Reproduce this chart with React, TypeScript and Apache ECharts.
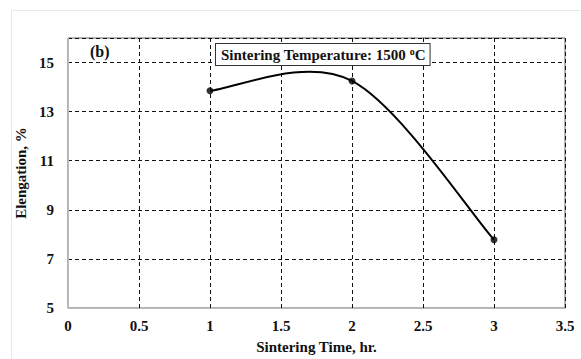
import React, { useEffect, useRef } from "react";
import * as echarts from "echarts";

const times = [1, 2, 3];
const elongation = [13.85, 14.25, 7.78];
const xTicks = { min: 0, max: 3.5, interval: 0.5 };
const yTicks = { min: 5, max: 16, interval: 2 };
const xName = "Sintering Time, hr.";
const yName = "Elengation, %";
const panelLabel = "(b)";
const annotationMain = "Sintering Temperature: 1500 ";

const FONT = "'Liberation Serif', 'Times New Roman', serif";

export default function App() {
  const ref = useRef<HTMLDivElement>(null);
  useEffect(() => {
    document.body.style.margin = "0";
    const chart = echarts.init(ref.current!, null, { renderer: "svg" });
    const pts = times.map((t, i) => [t, elongation[i]]);
    chart.setOption({
      animation: false,
      backgroundColor: "#ffffff",
      textStyle: { fontFamily: FONT },
      grid: {
        left: 68,
        top: 38,
        right: 16,
        bottom: 50,
        show: true,
        borderColor: "#666",
        borderWidth: 1,
        backgroundColor: "transparent",
      },
      xAxis: {
        type: "value",
        min: xTicks.min,
        max: xTicks.max,
        interval: xTicks.interval,
        name: xName,
        nameLocation: "middle",
        nameGap: 31,
        nameTextStyle: { fontFamily: FONT, fontWeight: "bold", fontSize: 15, color: "#111" },
        axisLine: { show: true, lineStyle: { color: "#bbb", width: 1 } },
        axisTick: { show: false },
        axisLabel: { fontFamily: FONT, fontWeight: "bold", fontSize: 15, color: "#111", margin: 10 },
        splitLine: { show: true, lineStyle: { color: "#111", type: [4, 3], width: 1 } },
      },
      yAxis: {
        type: "value",
        min: yTicks.min,
        max: yTicks.max,
        interval: yTicks.interval,
        name: yName,
        nameLocation: "middle",
        nameGap: 31,
        nameRotate: 90,
        nameTextStyle: { fontFamily: FONT, fontWeight: "bold", fontSize: 15, color: "#111" },
        axisLine: { show: true, lineStyle: { color: "#bbb", width: 1 } },
        axisTick: { show: false },
        axisLabel: {
          fontFamily: FONT,
          fontWeight: "bold",
          fontSize: 15,
          color: "#111",
          margin: 14,
          showMaxLabel: false,
          formatter: (v: number) => (v === yTicks.max ? "" : String(v)),
        },
        splitLine: { show: true, lineStyle: { color: "#111", type: [4, 3], width: 1 } },
      },
      series: [
        {
          type: "custom",
          data: pts.slice(0, pts.length - 1).map((p, i) => [p[0], p[1], i]),
          encode: { x: 0, y: 1 },
          z: 4,
          renderItem: (params: any, api: any) => {
            const i = params.dataIndex;
            const c = pts.map((p) => api.coord(p));
            const p0 = c[Math.max(i - 1, 0)];
            const p1 = c[i];
            const p2 = c[i + 1];
            const p3 = c[Math.min(i + 2, c.length - 1)];
            const k = 1 / 6;
            return {
              type: "bezierCurve",
              shape: {
                x1: p1[0],
                y1: p1[1],
                cpx1: p1[0] + (p2[0] - p0[0]) * k,
                cpy1: p1[1] + (p2[1] - p0[1]) * k,
                cpx2: p2[0] - (p3[0] - p1[0]) * k,
                cpy2: p2[1] - (p3[1] - p1[1]) * k,
                x2: p2[0],
                y2: p2[1],
              },
              style: { stroke: "#000", lineWidth: 2, fill: "none" },
            };
          },
        },
        {
          type: "scatter",
          data: pts,
          symbol: "circle",
          symbolSize: 7,
          itemStyle: { color: "#000" },
          z: 5,
        },
      ],
      graphic: [
        {
          type: "rect",
          silent: true,
          shape: { x: 11.5, y: 10.5, width: 600, height: 400 },
          style: { fill: "none", stroke: "#e8e8e8", lineWidth: 1 },
          z: 0,
        },
        {
          type: "text",
          left: 83,
          top: 41,
          z: 10,
          style: {
            text: panelLabel,
            font: `bold 16px ${FONT}`,
            fill: "#111",
            backgroundColor: "#fff",
            padding: [2, 14, 2, 7],
          },
        },
        {
          type: "text",
          left: 215,
          top: 43,
          z: 10,
          style: {
            text: `${annotationMain}{sup|o}C`,
            font: `bold 15px ${FONT}`,
            fill: "#111",
            backgroundColor: "#fff",
            borderColor: "#333",
            borderWidth: 1,
            padding: [2, 4, 1, 5],
            rich: {
              sup: { fontSize: 10, fontWeight: "bold", fontFamily: FONT, verticalAlign: "top", padding: [0, 0, 8, 0], fill: "#111" },
            },
          },
        },
      ],
    });
    return () => chart.dispose();
  }, []);
  return <div ref={ref} style={{ width: 581, height: 359 }} />;
}
